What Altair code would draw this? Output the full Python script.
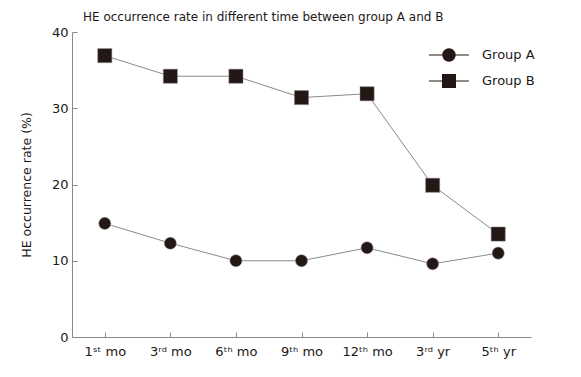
import altair as alt
import pandas as pd

times = ["1ˢᵗ mo", "3ʳᵈ mo", "6ᵗʰ mo", "9ᵗʰ mo", "12ᵗʰ mo", "3ʳᵈ yr", "5ᵗʰ yr"]
group_a = [14.9, 12.3, 10.0, 10.0, 11.7, 9.6, 11.0]
group_b = [36.9, 34.2, 34.2, 31.4, 31.9, 19.9, 13.5]
groups = ["Group A", "Group B"]
y_ticks = [0, 10, 20, 30, 40]

rows = []
for g, vals in zip(groups, [group_a, group_b]):
    for t, v in zip(times, vals):
        rows.append({"time": t, "rate": v, "group": g})
df = pd.DataFrame(rows)

INK = "#231815"
LINE = "#8a8a8a"
FONT = "DejaVu Sans"

x = alt.X("time:N", sort=times,
          scale=alt.Scale(type="point", padding=0.5),
          axis=alt.Axis(title=None, labelAngle=0, tickSize=alt.ExprRef(expr="-5"),
                        labelPadding=13))
y = alt.Y("rate:Q", scale=alt.Scale(domain=[0, 40]),
          axis=alt.Axis(values=y_ticks, title="HE occurrence rate (%)",
                        tickSize=alt.ExprRef(expr="-5"), labelPadding=9,
                        titlePadding=18, titleFontSize=12.5, titleFontWeight="normal",
                        titleFont=FONT, titleColor=INK))

base = alt.Chart(df)

lines = base.mark_line(color=LINE, strokeWidth=1).encode(x=x, y=y, detail="group:N")

pts_a = base.transform_filter(alt.datum.group == "Group A").mark_point(
    shape="circle", size=145, filled=True, color=INK, opacity=1,
    stroke=LINE, strokeWidth=0.5).encode(x=x, y=y)
pts_b = base.transform_filter(alt.datum.group == "Group B").mark_point(
    shape="square", size=200, filled=True, color=INK, opacity=1,
    stroke=LINE, strokeWidth=0.5).encode(x=x, y=y)

path_a = ("M-2,-0.045H-0.6V0.045H-2Z M0.6,-0.045H2V0.045H0.6Z "
          "M0.67,0A0.67,0.67,0,1,1,-0.67,0A0.67,0.67,0,1,1,0.67,0Z")
path_b = ("M-2,-0.045H-0.6V0.045H-2Z M0.6,-0.045H2V0.045H0.6Z "
          "M-0.7,-0.7H0.7V0.7H-0.7Z")

legend_layer = base.transform_filter("false").mark_point(
    filled=True, color=INK, opacity=1).encode(
    x=x, y=y,
    shape=alt.Shape("group:N",
                    scale=alt.Scale(domain=groups, range=[path_a, path_b]),
                    legend=alt.Legend(title=None, orient="none", legendX=366, legendY=12,
                                      symbolSize=400, labelOffset=22, rowPadding=5,
                                      labelFontSize=13, labelFont=FONT, labelColor=INK,
                                      symbolFillColor="#3a3330", symbolOpacity=1)))

chart = alt.layer(lines, pts_a, pts_b, legend_layer).properties(
    width=459, height=305,
    title=alt.TitleParams("HE occurrence rate in different time between group A and B",
                          anchor="start", frame="group", fontSize=12, fontWeight="normal",
                          font=FONT, color=INK, offset=2, dx=11),
    autosize=alt.AutoSizeParams(type="none"),
    padding={"left": 64, "top": 24, "right": 42, "bottom": 32},
).configure_view(stroke=None).configure_axis(
    grid=False, domainColor=LINE, tickColor=LINE, domainWidth=1, tickWidth=1,
    labelColor=INK, labelFontSize=13, labelFont=FONT,
)

chart.save("out.html", embed_options={"renderer": "svg", "actions": False})
